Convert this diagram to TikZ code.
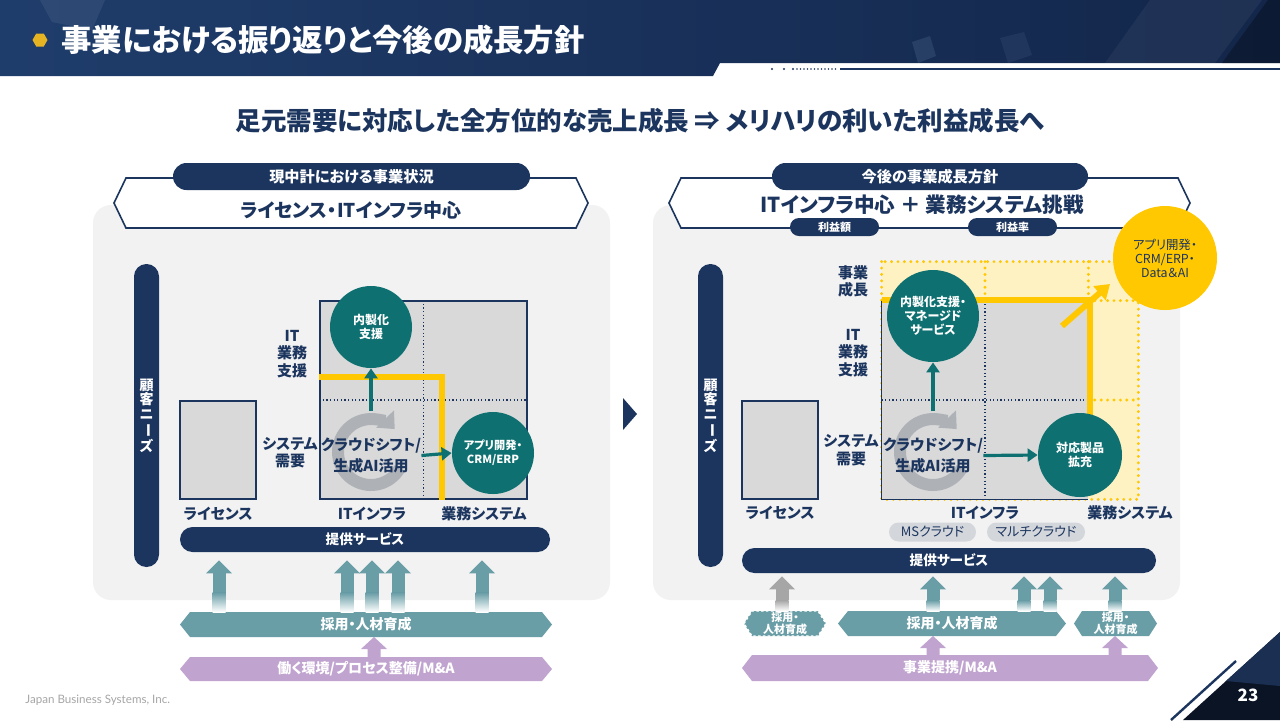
\documentclass[tikz,border=0pt]{standalone}
\usepackage{fontspec}
\setmainfont{Noto Sans CJK JP}[RawFeature=+palt]
\newfontfamily\latinfont{Lato}
\usetikzlibrary{shapes.misc,shapes.geometric,arrows.meta,calc}
\definecolor{navy}{HTML}{1C355E}
\definecolor{tealc}{HTML}{0E7070}
\definecolor{tealb}{HTML}{6A9EA7}
\definecolor{purp}{HTML}{C0A3CF}
\definecolor{yel}{HTML}{FFC800}
\definecolor{ylight}{HTML}{FFF2C2}
\definecolor{panelg}{HTML}{F2F2F2}
\definecolor{boxg}{HTML}{D9D9D9}
\definecolor{gearg}{HTML}{AEB2B7}
\definecolor{pillg}{HTML}{D3D6DB}
\definecolor{arrg}{HTML}{A6A6A6}
\definecolor{hdrA}{HTML}{1F3D6B}
\definecolor{hdrM}{HTML}{1A3460}
\definecolor{hdrB}{HTML}{13264A}
\definecolor{footg}{HTML}{A6A6A6}
\definecolor{gold}{HTML}{E6B422}
\definecolor{cornD}{HTML}{0A1424}
\definecolor{cornL}{HTML}{1A2F52}

% hexagonal banner: style, name, centre, width, height, inset
\newcommand\hexban[6]{%
  \node[minimum width=#4, minimum height=#5, inner sep=0pt, outer sep=0pt] (#2) at #3 {};
  \path[#1] (#2.west) -- ([xshift=#6]#2.north west) -- ([xshift=-#6]#2.north east)
    -- (#2.east) -- ([xshift=-#6]#2.south east) -- ([xshift=#6]#2.south west) -- cycle;}
% fading block arrow: colour, top point, bottom point, gap
\newcommand\blkup[4]{%
  \fill[#1] let \p1=#2 in (\x1,\y1-#4) -- (\x1+6.5pt,\y1-#4-6.5pt) -- (\x1-6.5pt,\y1-#4-6.5pt) -- cycle;
  \fill[#1] let \p1=#2, \p2=#3 in (\x1-3.25pt,\y1-#4-6.4pt) rectangle (\x1+3.25pt,{0.5*(\y1-#4-6.5pt)+0.5*\y2});
  \shade[top color=#1, bottom color=white] let \p1=#2, \p2=#3 in
    (\x1-3.25pt,{0.5*(\y1-#4-6.5pt)+0.5*\y2}) rectangle (\x1+3.25pt,\y2);}
% short solid block arrow
\newcommand\blkupS[3]{%
  \fill[#1] let \p1=#2, \p2=#3 in (\x1,\y1) -- (\x1+6.5pt,\y1-6pt) -- (\x1+3.25pt,\y1-6pt)
    -- (\x1+3.25pt,\y2) -- (\x1-3.25pt,\y2) -- (\x1-3.25pt,\y1-6pt) -- (\x1-6.5pt,\y1-6pt) -- cycle;}
% circular arrow
\newcommand\cyclearrow[1]{%
  \draw[gearg, line width=6pt, -{Triangle[width=12pt,length=7pt]}]
    ($#1+(30:33)$) arc[start angle=30, end angle=316, radius=33];}

\begin{document}
\begin{tikzpicture}[x=0.5pt,y=-0.5pt,
  lbl/.style={text=navy, font=\bfseries\fontsize{7.5}{8.75}\selectfont, align=center, inner sep=0pt},
  circ/.style={circle, fill=tealc, text=white, font=\bfseries\fontsize{6}{7}\selectfont, align=center, inner sep=0pt},
  navpill/.style={rounded rectangle, fill=navy, text=white, font=\bfseries\fontsize{7.6}{9}\selectfont, inner sep=0pt},
  svcbar/.style={rounded rectangle, fill=navy, text=white, font=\bfseries\fontsize{6.8}{8}\selectfont, inner sep=0pt, minimum height=12.5pt},
  grypill/.style={rounded rectangle, fill=pillg, text=navy, font=\fontsize{6.5}{8}\selectfont, inner sep=0pt, minimum height=9.5pt},
  bantxt/.style={text=white, font=\bfseries\fontsize{7}{8}\selectfont, align=center, inner sep=0pt},
  smalltxt/.style={text=white, font=\bfseries\fontsize{5.5}{6.2}\selectfont, align=center, inner sep=0pt},
  bigtxt/.style={text=navy, font=\bfseries\fontsize{9.5}{11}\selectfont, inner sep=0pt},
  vtxt/.style={text=white, font=\bfseries\fontsize{7}{7.25}\selectfont, align=center, inner sep=0pt},
  vbar/.style={fill=navy, rounded corners=6.2pt, minimum width=12.5pt, minimum height=151.5pt, inner sep=0pt},
  licbox/.style={draw=navy, fill=boxg, line width=0.75pt, minimum width=38pt, minimum height=49pt, inner sep=0pt},
  dotn/.style={navy, line width=0.6pt, dash pattern=on 0.6pt off 1.2pt},
  doty/.style={yel, line width=1.6pt, line cap=round, dash pattern=on 0pt off 3.2pt},
  yline/.style={yel, line width=3pt},
  tarrow/.style={tealc, line width=1.6pt, -{Triangle[width=6.5pt,length=5pt]}}]
\useasboundingbox (0,0) rectangle (1280,720);
\fill[white] (0,0) rectangle (1280,720);

% ---------------- header ----------------
\shade[left color=hdrA, middle color=hdrM, right color=hdrB]
  (0,0) -- (1280,0) -- (1280,63) -- (720,63) -- (713,76) -- (0,76) -- cycle;
\fill[white, opacity=0.07] (40,0) -- (105,0) -- (92,30) -- (52,22) -- cycle;
\fill[white, opacity=0.05] (1105,63) -- (1150,0) -- (1262,0) -- (1215,63) -- cycle;
\fill[black, opacity=0.3] (1222,63) -- (1268,0) -- (1280,0) -- (1280,63) -- cycle;
\fill[hdrA!80!white, opacity=0.35] (912,42) -- (930,36) -- (936,56) -- (918,63) -- cycle;
\fill[hdrA!85!white, opacity=0.25] (1000,38) -- (1024,32) -- (1032,55) -- (1008,63) -- cycle;
\foreach \xx in {772,784,793} {\fill[navy] (\xx,69) circle (1.2);}
\foreach \xx in {797,800.5,...,838} {\fill[navy] (\xx,69) circle (0.9);}
\draw[navy, line width=1pt] (840,69) -- (1280,69);
\node[regular polygon, regular polygon sides=6, fill=gold, minimum size=7.5pt, inner sep=0pt] (bullet) at (40,40) {};
\node[anchor=west, text=white, font=\bfseries\fontsize{15.2}{17}\selectfont, inner sep=0pt] (title) at (61,40)
  {事業における振り返りと今後の成長方針};

% ---------------- subtitle ----------------
\node[text=navy, font=\bfseries\fontsize{12.75}{14}\selectfont, inner sep=0pt] (sub) at (640,121)
  {足元需要に対応した全方位的な売上成長 ⇒ メリハリの利いた利益成長へ};

% ---------------- panels ----------------
\fill[panelg, rounded corners=9pt] (93,205) rectangle (610,600);
\fill[panelg, rounded corners=9pt] (653,205) rectangle (1180,600);

% ---------------- left banner ----------------
\hexban{draw=navy, fill=white, line width=0.8pt}{banL}{(351,203)}{237pt}{25pt}{6pt}
\node[bigtxt] (banLt) at (351,210) {ライセンス・ITインフラ中心};
\node[navpill, minimum width=178.5pt, minimum height=13.5pt] (hdrL) at (351.5,176.5) {現中計における事業状況};

% ---------------- right banner ----------------
\hexban{draw=navy, fill=white, line width=0.8pt}{banR}{(929.5,203)}{260.5pt}{25pt}{6pt}
\node[bigtxt, font=\bfseries\fontsize{10.3}{12}\selectfont] (banRt) at (922,205) {ITインフラ中心 ＋ 業務システム挑戦};
\node[navpill, minimum width=158pt, minimum height=13.5pt] (hdrR) at (930,176.5) {今後の事業成長方針};
\node[navpill, minimum width=44.5pt, minimum height=9pt, font=\bfseries\fontsize{5.5}{6}\selectfont] (rieL) at (834.5,227) {利益額};
\node[navpill, minimum width=44.5pt, minimum height=9pt, font=\bfseries\fontsize{5.5}{6}\selectfont] (rieR) at (1012.5,227) {利益率};

% ---------------- left panel content ----------------
\node[vbar] (needL) at (146.5,415.5) {};
\node[vtxt] (needLt) at (needL) {顧\\客\\ニ\\\rotatebox[origin=c]{-90}{ー}\\ズ};
\node[licbox] (licL) at (218,450) {};
\node[draw=navy, fill=boxg, line width=0.75pt, minimum width=103.5pt, minimum height=99pt, inner sep=0pt] (gridL) at (423.5,400) {};
\draw[dotn] (gridL.north) -- (gridL.south);
\draw[dotn] (gridL.west) -- (gridL.east);
\coordinate (ycL) at (442,377);
\draw[yline] (gridL.west |- ycL) -- (ycL) -- (ycL |- gridL.south);
\cyclearrow{(371,452)}
\node[lbl, font=\bfseries\fontsize{7.5}{10.5}\selectfont] (cloudL) at (371,455.5) {クラウドシフト/\\生成AI活用};
\node[circ, minimum size=41pt] (naiseiL) at (371,327) {内製化\\支援};
\node[circ, minimum size=41pt, font=\bfseries\fontsize{5.6}{7}\selectfont] (appL) at (493,453) {アプリ開発・\\CRM/ERP};
\coordinate (gtopL) at (371,411);
\draw[tarrow] (gtopL) -- (naiseiL.south);
\draw[tarrow] (cloudL.east) -- (appL.west);
\node[lbl] (itL) at (292,354) {IT\\業務\\支援};
\node[lbl] (sysL) at (290,452.5) {システム\\需要};
\node[lbl] (licLlab) at (218,514) {ライセンス};
\node[lbl] (infLlab) at (372,514) {ITインフラ};
\node[lbl] (gyoLlab) at (484,514) {業務システム};
\node[svcbar, minimum width=185pt] (svcL) at (365,539.5) {提供サービス};

% left bottom banners
\hexban{fill=tealb}{saiyoL}{(366,624.5)}{186pt}{12.5pt}{5pt}
\node[bantxt] (saiyoLt) at (saiyoL) {採用・人材育成};
\hexban{fill=purp}{workL}{(366,669)}{186pt}{12pt}{5pt}
\node[bantxt] (workLt) at (workL) {働く環境/プロセス整備/M\&A};
\foreach \xx in {219,347,372,398,482}
  {\blkup{tealb}{(svcL.south -| \xx,0)}{(saiyoL.north -| \xx,0)}{4pt}}
\blkupS{purp}{(saiyoL.south -| 374,0)}{(workL.north -| 374,0)}

% middle triangle
\fill[navy] (623,398) -- (637,414) -- (623,430) -- cycle;

% ---------------- right panel content ----------------
\node[vbar] (needR) at (710.5,415.5) {};
\node[vtxt] (needRt) at (needR) {顧\\客\\ニ\\\rotatebox[origin=c]{-90}{ー}\\ズ};
\node[licbox] (licR) at (780,450) {};
\node[fill=ylight, minimum width=128pt, minimum height=118.5pt, inner sep=0pt] (yregR) at (1010,380.5) {};
\draw[doty] (yregR.north west) rectangle (yregR.south east);
\node[fill=boxg, minimum width=103pt, minimum height=99pt, inner sep=0pt] (gridR) at (985,400) {};
\draw[navy, line width=0.75pt] (gridR.north west) -- (gridR.south west) -- (gridR.south east);
\draw[dotn] (gridR.north) -- (gridR.south);
\draw[dotn] (gridR.west) -- (gridR.east);
\draw[doty] (gridR.north |- yregR.north) -- (gridR.north);
\draw[doty] (gridR.north east |- yregR.north) -- (gridR.north east);
\draw[doty] (gridR.north east) -- (gridR.north east -| yregR.east);
\draw[doty] (gridR.east) -- (gridR.east -| yregR.east);
\coordinate (ycR) at (1090,300);
\coordinate (ycR2) at (1090,415);
\coordinate (dgs) at (1062,326);
\coordinate (dge) at (1110,284);
\draw[yline] (gridR.north west |- ycR) -- (ycR) -- (ycR2);
\draw[yline, -{Triangle[width=9pt,length=7pt]}] (dgs) -- (dge);
\node[circ, minimum size=42pt] (taiouR) at (1080,455) {対応製品\\拡充};
\cyclearrow{(933,452)}
\node[lbl, font=\bfseries\fontsize{7.5}{10.5}\selectfont] (cloudR) at (933,455.5) {クラウドシフト/\\生成AI活用};
\node[circ, minimum size=46pt] (naiseiR) at (933,316) {内製化支援・\\マネージド\\サービス};
\node[circle, fill=yel, minimum size=52pt, inner sep=0pt, text=navy, align=center,
  font=\fontsize{6.2}{7}\selectfont] (dataR) at (1165,258) {アプリ開発・\\CRM/ERP・\\Data＆AI};
\coordinate (gtopR) at (933,411);
\draw[tarrow] (gtopR) -- (naiseiR.south);
\draw[tarrow] (cloudR.east) -- (taiouR.west);
\node[lbl] (jigyoR) at (853,281.5) {事業\\成長};
\node[lbl] (itR) at (853,353) {IT\\業務\\支援};
\node[lbl] (sysR) at (851,450) {システム\\需要};
\node[lbl] (licRlab) at (780,513) {ライセンス};
\node[lbl] (infRlab) at (985,513) {ITインフラ};
\node[lbl] (gyoRlab) at (1130,513) {業務システム};
\node[grypill, minimum width=43.5pt] (msR) at (932.5,532) {MSクラウド};
\node[grypill, minimum width=49pt] (multiR) at (1036,532) {マルチクラウド};
\node[svcbar, minimum width=207pt] (svcR) at (949,560.5) {提供サービス};

% right bottom banners
\hexban{fill=tealb}{saiyoR1}{(785,623.5)}{41pt}{12.5pt}{4pt}
\path[draw=white, line width=0.7pt, dash pattern=on 1.2pt off 1.2pt] (saiyoR1.west) -- ([xshift=4pt]saiyoR1.north west) -- ([xshift=-4pt]saiyoR1.north east)
    -- (saiyoR1.east) -- ([xshift=-4pt]saiyoR1.south east) -- ([xshift=4pt]saiyoR1.south west) -- cycle;
\node[smalltxt] (saiyoR1t) at (saiyoR1) {採用・\\人材育成};
\hexban{fill=tealb}{saiyoR2}{(952,623.5)}{114pt}{12.5pt}{5pt}
\node[bantxt] (saiyoR2t) at (saiyoR2) {採用・人材育成};
\hexban{fill=tealb}{saiyoR3}{(1115.5,623.5)}{41.5pt}{12.5pt}{4pt}
\node[smalltxt] (saiyoR3t) at (saiyoR3) {採用・\\人材育成};
\hexban{fill=purp}{teikeiR}{(950,668)}{208pt}{13pt}{5pt}
\node[bantxt] (teikeiRt) at (teikeiR) {事業提携/M\&A};
\blkup{arrg}{(svcR.south -| 782,0)}{(saiyoR1.north -| 782,0)}{1.5pt}
\foreach \xx in {933,1024,1050}
  {\blkup{tealb}{(svcR.south -| \xx,0)}{(saiyoR2.north -| \xx,0)}{1.5pt}}
\blkup{tealb}{(svcR.south -| 1115,0)}{(saiyoR3.north -| 1115,0)}{1.5pt}
\blkupS{purp}{(saiyoR2.south -| 933,0)}{(teikeiR.north -| 933,0)}
\blkupS{purp}{(saiyoR3.south -| 1115,0)}{(teikeiR.north -| 1115,0)}

% ---------------- footer ----------------
\node[anchor=west, text=footg, font=\latinfont\fontsize{5.8}{7}\selectfont, inner sep=0pt] (foot) at (25,700) {Japan Business Systems, Inc.};
\fill[cornD] (1183,720) -- (1280,632) -- (1280,720) -- cycle;
\fill[cornL] (1226,681) -- (1280,632) -- (1280,686) -- cycle;
\draw[navy, line width=1.2pt] (1171,720) -- (1236,661);
\node[text=white, font=\bfseries\fontsize{8.5}{10}\selectfont, inner sep=0pt] (pg) at (1248,695) {23};
\end{tikzpicture}
\end{document}
